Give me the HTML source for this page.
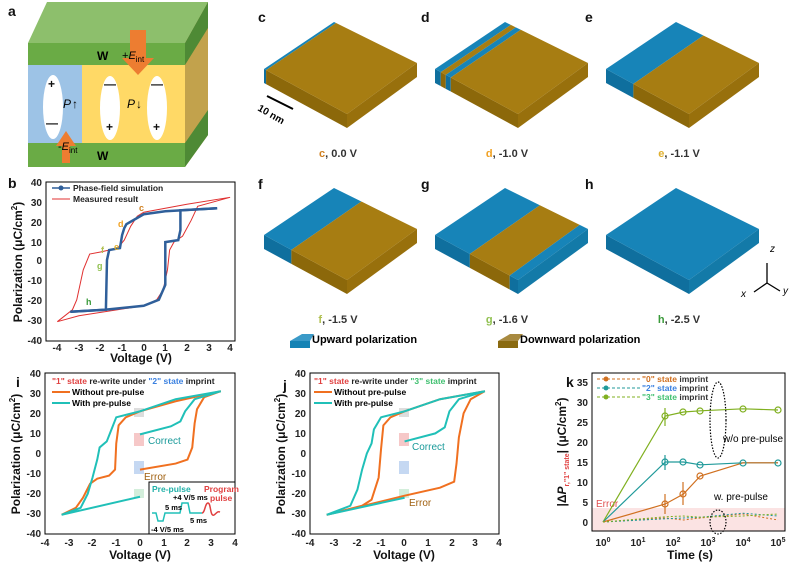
<!DOCTYPE html>
<html><head><meta charset="utf-8"><style>
body{margin:0;background:#fff}
svg{display:block;font-family:"Liberation Sans",Arial,sans-serif}
.t{font-size:10px;font-weight:bold;fill:#222}
.ax{font-size:12px;font-weight:bold;fill:#111}
.L{font-size:14px;font-weight:bold;fill:#111}
.ln{fill:none;vector-effect:non-scaling-stroke}
.s{font-size:8.5px;font-weight:bold}
</style></head><body>
<svg id="s" width="800" height="564" viewBox="0 0 800 564" xmlns="http://www.w3.org/2000/svg">
<!-- panel a -->
<polygon points="28,43 185,43 208,2 47,2" fill="#8dbf6c"/>
<polygon points="185,43 208,2 208,135 185,167" fill="#c2a24c"/>
<polygon points="185,43 208,2 208,28 185,65" fill="#4e8a35"/>
<polygon points="185,143 208,110 208,135 185,167" fill="#4e8a35"/>
<rect x="28" y="43" width="157" height="22" fill="#6aab45"/>
<rect x="28" y="65" width="54" height="78" fill="#9dc3e6"/>
<rect x="82" y="65" width="103" height="78" fill="#ffd966"/>
<rect x="28" y="143" width="157" height="24" fill="#6aab45"/>
<ellipse cx="53" cy="107" rx="10" ry="32" fill="#fff"/>
<ellipse cx="110" cy="108" rx="10" ry="32" fill="#fff"/>
<ellipse cx="157" cy="108" rx="10" ry="32" fill="#fff"/>
<text x="48" y="88" class="ax">+</text><text x="46" y="127" class="ax">—</text>
<text x="104" y="88" class="ax">—</text><text x="106" y="131" class="ax">+</text>
<text x="151" y="88" class="ax">—</text><text x="153" y="131" class="ax">+</text>
<text x="63" y="108" font-size="12" font-style="italic">P</text><text x="72" y="108" font-size="12">↑</text>
<text x="127" y="108" font-size="12" font-style="italic">P</text><text x="136" y="108" font-size="12">↓</text>
<polygon points="130,30 146,30 146,58 154,58 138,75 122,58 130,58" fill="#ed7d31"/>
<polygon points="62,163 70,163 70,146 76,146 66,131 56,146 62,146" fill="#ed7d31"/>
<text x="97" y="60" font-size="12" font-weight="bold">W</text>
<text x="97" y="160" font-size="12" font-weight="bold">W</text>
<text x="122" y="59" font-size="11">+<tspan font-style="italic">E</tspan><tspan font-size="8" dy="3">int</tspan></text>
<text x="58" y="150" font-size="11">-<tspan font-style="italic">E</tspan><tspan font-size="8" dy="3">int</tspan></text>
<text x="8" y="16" class="L">a</text>
<!-- panel b -->
<text x="8" y="188" class="L">b</text>
<rect x="46" y="182" width="189" height="159" fill="none" stroke="#000" stroke-width="1"/>
<g class="t" text-anchor="end">
<text x="42" y="186">40</text><text x="42" y="206">30</text><text x="42" y="226">20</text><text x="42" y="246">10</text><text x="42" y="264">0</text><text x="42" y="284">-10</text><text x="42" y="304">-20</text><text x="42" y="324">-30</text><text x="42" y="344">-40</text></g>
<g class="t" text-anchor="middle">
<text x="57" y="351">-4</text><text x="79" y="351">-3</text><text x="100" y="351">-2</text><text x="122" y="351">-1</text><text x="144" y="351">0</text><text x="165" y="351">1</text><text x="187" y="351">2</text><text x="209" y="351">3</text><text x="230" y="351">4</text></g>
<text x="141" y="362" class="ax" text-anchor="middle">Voltage (V)</text>
<text transform="translate(22,262) rotate(-90)" class="ax" text-anchor="middle">Polarization (μC/cm<tspan font-size="8" dy="-5">2</tspan><tspan dy="5">)</tspan></text>
<g transform="translate(143.7,260) scale(21.6,-1.99)">
<polyline class="ln" stroke="#e03030" stroke-width="1" points="-4,-31 -3,-28 0,-23 0.6,-20 0.9,-15 1.1,-5 1.2,5 1.4,9 1.8,12 2.2,20 2.5,27 4,31.5 2,28 0,24 -0.3,22 -0.6,17 -0.9,10 -1.2,6 -2,4 -2.5,3 -2.8,-5 -3.1,-20 -3.3,-25 -4,-31"/>
<polyline class="ln" stroke="#2f5f9a" stroke-width="2.5" points="-3.4,-26 -1.8,-25 0,-23 0.7,-20 0.9,-15 1,-12.5 1,9 1.6,10 1.7,15 1.7,25 3.4,26"/>
<polyline class="ln" stroke="#2f5f9a" stroke-width="2.5" points="3.4,26 1,24.5 0,23 -0.8,18 -0.9,16 -1,12.5 -1.1,6 -1.6,5 -1.7,0 -1.75,-25 -3.4,-26"/>
</g>
<line x1="52" y1="188" x2="70" y2="188" stroke="#2f5f9a" stroke-width="1.5"/><circle cx="61" cy="188" r="2.5" fill="#2f5f9a"/>
<text x="73" y="191" class="s" fill="#222">Phase-field simulation</text>
<line x1="52" y1="199" x2="70" y2="199" stroke="#e03030"/>
<text x="73" y="202" class="s" fill="#222">Measured result</text>
<g font-size="9" font-weight="bold"><text x="139" y="211" fill="#d08020">c</text><text x="118" y="227" fill="#f0a020">d</text><text x="114" y="250" fill="#e0b030">e</text><text x="101" y="253" fill="#b0c050">f</text><text x="97" y="269" fill="#90c050">g</text><text x="86" y="305" fill="#3a9a3a">h</text></g>
<!-- cubes -->
<g id="cubes"></g>
<g font-size="11" font-weight="bold" fill="#333" text-anchor="middle">
<text x="338" y="157"><tspan fill="#d08020">c</tspan>, 0.0 V</text>
<text x="507" y="157"><tspan fill="#f0a020">d</tspan>, -1.0 V</text>
<text x="679" y="157"><tspan fill="#e0b030">e</tspan>, -1.1 V</text>
<text x="338" y="323"><tspan fill="#b0c050">f</tspan>, -1.5 V</text>
<text x="507" y="323"><tspan fill="#90c050">g</tspan>, -1.6 V</text>
<text x="679" y="323"><tspan fill="#3a9a3a">h</tspan>, -2.5 V</text>
</g>
<g class="L" font-size="13"><text x="258" y="22">c</text><text x="421" y="22">d</text><text x="585" y="22">e</text><text x="258" y="189">f</text><text x="421" y="189">g</text><text x="585" y="189">h</text></g>
<line x1="267" y1="96" x2="293" y2="109" stroke="#000" stroke-width="2"/>
<text transform="translate(257,110) rotate(30)" font-size="10" font-weight="bold">10 nm</text>
<g stroke="#000" stroke-width="1.3" fill="none"><line x1="767" y1="283" x2="767" y2="263"/><line x1="767" y1="283" x2="754" y2="292"/><line x1="767" y1="283" x2="780" y2="291"/></g>
<text x="741" y="297" font-size="10" font-style="italic">x</text><text x="783" y="294" font-size="10" font-style="italic">y</text><text x="770" y="252" font-size="10" font-style="italic">z</text>
<polygon points="290,341 302,334 314,334 310,341" fill="#3a9ac8"/><rect x="290" y="341" width="20" height="7" fill="#1583b5"/>
<text x="312" y="343" font-size="11" font-weight="bold">Upward polarization</text>
<polygon points="498,341 510,334 523,334 518,341" fill="#a88a40"/><rect x="498" y="341" width="20" height="7" fill="#8a6a10"/>
<text x="520" y="343" font-size="11" font-weight="bold">Downward polarization</text>
<!-- panel i -->
<rect x="45" y="373" width="190" height="161" fill="none" stroke="#000"/>
<text x="16" y="387" class="L" fill="#111">i</text>
<g class="t" text-anchor="end">
<text x="41" y="377">40</text><text x="41" y="397">30</text><text x="41" y="417">20</text><text x="41" y="437">10</text><text x="41" y="457">0</text><text x="41" y="477">-10</text><text x="41" y="497">-20</text><text x="41" y="517">-30</text><text x="41" y="537">-40</text></g>
<g class="t" text-anchor="middle">
<text x="45" y="546">-4</text><text x="69" y="546">-3</text><text x="92" y="546">-2</text><text x="116" y="546">-1</text><text x="140" y="546">0</text><text x="164" y="546">1</text><text x="187" y="546">2</text><text x="211" y="546">3</text><text x="235" y="546">4</text></g>
<text x="140" y="559" class="ax" text-anchor="middle">Voltage (V)</text>
<text transform="translate(20,454) rotate(-90)" class="ax" text-anchor="middle">Polarization (μC/cm<tspan font-size="8" dy="-5">2</tspan><tspan dy="5">)</tspan></text>
<rect x="134" y="408" width="10" height="9" fill="#ddd"/><rect x="134" y="433" width="10" height="13" fill="#f6c8c8"/><rect x="134" y="461" width="10" height="13" fill="#c5d8f2"/><rect x="134" y="489" width="10" height="9" fill="#d3eedb"/>
<g transform="translate(140,453.5) scale(23.75,-2.01)">
<polyline class="ln" stroke="#f07020" stroke-width="2" points="3.4,31 1.5,26 0,21 -0.6,18 -0.9,14 -1,5 -1.05,-8 -1.3,-11 -1.8,-12.5 -2.1,-15 -2.4,-22 -2.7,-27 -3.3,-30.5"/>
<polyline class="ln" stroke="#f07020" stroke-width="2" points="0,-8 1.5,-5 2,-3 2.2,3 2.3,15 2.4,22 2.7,28 3.4,31"/>
<polyline class="ln" stroke="#20c0b8" stroke-width="2" points="3.4,31 1.5,27 0,21 -1,18 -1.2,12 -1.4,6 -1.7,3 -1.8,-3 -2,-12 -2.2,-20 -2.5,-27 -3.3,-30.5 0,-21.5"/>
<polyline class="ln" stroke="#20c0b8" stroke-width="2" points="0,9.5 1.3,13.5 1.7,16 1.9,21 2.3,27 3.4,31"/>
</g>
<text x="148" y="444" font-size="10" fill="#1a9a9a">Correct</text>
<text x="144" y="480" font-size="10" fill="#a06010">Error</text>
<text x="52" y="384" class="s" fill="#222"><tspan fill="#e04040">"1" state</tspan> re-write under <tspan fill="#3a80e0">"2" state</tspan> imprint</text>
<line x1="52" y1="392" x2="70" y2="392" stroke="#f07020" stroke-width="2"/><text x="72" y="395" class="s">Without pre-pulse</text>
<line x1="52" y1="403" x2="70" y2="403" stroke="#20c0b8" stroke-width="2"/><text x="72" y="406" class="s">With pre-pulse</text>
<rect x="149" y="482" width="86" height="52" fill="#fff" stroke="#000"/>
<text x="152" y="492" font-size="8.5" fill="#20b0a8" font-weight="bold">Pre-pulse</text>
<text x="204" y="492" font-size="8.5" fill="#e04040" font-weight="bold">Program</text><text x="210" y="501" font-size="8.5" fill="#e04040" font-weight="bold">pulse</text>
<polyline points="152,513 156,513 158,521 163,521 165,513 180,513 182,503 188,503 190,513 202,513" fill="none" stroke="#20c0b8" stroke-width="1.5"/>
<path d="M202,513 C205,513 205,503 208,503 C211,503 210,517 214,515 C217,513 217,511 220,512" fill="none" stroke="#e04040" stroke-width="1.5"/>
<g font-size="7.5" font-weight="bold"><text x="173" y="500">+4 V/5 ms</text><text x="165" y="510">5 ms</text><text x="190" y="523">5 ms</text><text x="151" y="532">-4 V/5 ms</text></g>
<!-- panel j -->
<rect x="310" y="373" width="189" height="161" fill="none" stroke="#000"/>
<text x="283" y="390" class="L">j</text>
<g class="t" text-anchor="end">
<text x="306" y="377">40</text><text x="306" y="397">30</text><text x="306" y="417">20</text><text x="306" y="437">10</text><text x="306" y="457">0</text><text x="306" y="477">-10</text><text x="306" y="497">-20</text><text x="306" y="517">-30</text><text x="306" y="537">-40</text></g>
<g class="t" text-anchor="middle">
<text x="310" y="546">-4</text><text x="334" y="546">-3</text><text x="357" y="546">-2</text><text x="381" y="546">-1</text><text x="404" y="546">0</text><text x="428" y="546">1</text><text x="452" y="546">2</text><text x="475" y="546">3</text><text x="499" y="546">4</text></g>
<text x="404" y="559" class="ax" text-anchor="middle">Voltage (V)</text>
<text transform="translate(285,454) rotate(-90)" class="ax" text-anchor="middle">Polarization (μC/cm<tspan font-size="8" dy="-5">2</tspan><tspan dy="5">)</tspan></text>
<rect x="399" y="408" width="10" height="9" fill="#ddd"/><rect x="399" y="433" width="10" height="13" fill="#f6c8c8"/><rect x="399" y="461" width="10" height="13" fill="#c5d8f2"/><rect x="399" y="489" width="10" height="9" fill="#d3eedb"/>
<g transform="translate(404.6,453.5) scale(23.6,-2.01)">
<polyline class="ln" stroke="#f07020" stroke-width="2" points="3.4,31 1.5,27 0,21 -0.6,18 -0.9,14 -1,2 -1.1,-12 -1.4,-23 -1.8,-26 -3.3,-30.5"/>
<polyline class="ln" stroke="#f07020" stroke-width="2" points="-3.3,-30.5 0,-21 1.5,-17 2.1,-14 2.2,-5 2.3,8 2.5,20 2.8,27 3.4,31"/>
<polyline class="ln" stroke="#20c0b8" stroke-width="2" points="3.4,31 1.5,27 0,21 -1,18 -1.3,12 -1.4,5 -1.6,0 -1.8,-8 -2,-18 -2.3,-26 -3.3,-30.5 0,-22"/>
<polyline class="ln" stroke="#20c0b8" stroke-width="2" points="0,6 1.3,10 1.7,13 1.9,21 2.3,27 3.4,31"/>
</g>
<text x="412" y="450" font-size="10" fill="#1a9a9a">Correct</text>
<text x="409" y="506" font-size="10" fill="#a06010">Error</text>
<text x="314" y="384" class="s" fill="#222"><tspan fill="#e04040">"1" state</tspan> re-write under <tspan fill="#40c070">"3" state</tspan> imprint</text>
<line x1="314" y1="392" x2="332" y2="392" stroke="#f07020" stroke-width="2"/><text x="334" y="395" class="s">Without pre-pulse</text>
<line x1="314" y1="403" x2="332" y2="403" stroke="#20c0b8" stroke-width="2"/><text x="334" y="406" class="s">With pre-pulse</text>
<!-- panel k -->
<rect x="592" y="508" width="193" height="23" fill="#fbe3e3"/>
<rect x="592" y="373" width="193" height="158" fill="none" stroke="#000"/>
<text x="566" y="387" class="L">k</text>
<g class="t" text-anchor="end">
<text x="588" y="386">35</text><text x="588" y="406">30</text><text x="588" y="426">25</text><text x="588" y="446">20</text><text x="588" y="466">15</text><text x="588" y="486">10</text><text x="588" y="506">5</text><text x="588" y="526">0</text></g>
<g class="t" text-anchor="middle">
<text x="603" y="546">10<tspan font-size="7" dy="-4">0</tspan></text><text x="638" y="546">10<tspan font-size="7" dy="-4">1</tspan></text><text x="673" y="546">10<tspan font-size="7" dy="-4">2</tspan></text><text x="708" y="546">10<tspan font-size="7" dy="-4">3</tspan></text><text x="743" y="546">10<tspan font-size="7" dy="-4">4</tspan></text><text x="778" y="546">10<tspan font-size="7" dy="-4">5</tspan></text></g>
<text x="690" y="559" class="ax" text-anchor="middle">Time (s)</text>
<text transform="translate(566,452) rotate(-90)" class="ax" text-anchor="middle">|Δ<tspan font-style="italic">P</tspan><tspan font-size="7" dy="3" fill="#e04040">r,"1" state</tspan><tspan dy="-3">| (μC/cm</tspan><tspan font-size="8" dy="-5">2</tspan><tspan dy="5">)</tspan></text>
<text x="596" y="507" font-size="10" fill="#e05050">Error</text>
<g transform="translate(603,522) scale(35,-4)">
<polyline class="ln" stroke="#80b020" stroke-width="1.2" points="0,0 1.78,26.5 2.3,27.5 2.78,27.8 4,28.3 5,28"/>
<polyline class="ln" stroke="#209a9a" stroke-width="1.2" points="0,0 1.78,15 2.3,15 2.78,14.3 4,14.8 5,14.8"/>
<polyline class="ln" stroke="#d07020" stroke-width="1.2" points="0,0 1.78,4.5 2.3,7 2.78,11.5 4,14.8 5,14.8"/>
<polyline class="ln" stroke="#d07020" stroke-width="1" stroke-dasharray="2,2" points="0,0 1.78,1 2.3,0.5 2.78,1 4,2 5,0.5"/>
<polyline class="ln" stroke="#209a9a" stroke-width="1" stroke-dasharray="2,2" points="0,0 1.78,0.8 2.3,1 2.78,1.2 4,2.2 5,1.5"/>
<polyline class="ln" stroke="#80b020" stroke-width="1" stroke-dasharray="2,2" points="0,0 1.78,1.3 2.3,1.5 2.78,1.2 4,1.5 5,2"/>
</g>
<g fill="none" stroke-width="1.2">
<circle cx="665" cy="416" r="3" stroke="#80b020"/><circle cx="683" cy="412" r="3" stroke="#80b020"/><circle cx="700" cy="411" r="3" stroke="#80b020"/><circle cx="743" cy="409" r="3" stroke="#80b020"/><circle cx="778" cy="410" r="3" stroke="#80b020"/>
<circle cx="665" cy="462" r="3" stroke="#209a9a"/><circle cx="683" cy="462" r="3" stroke="#209a9a"/><circle cx="700" cy="465" r="3" stroke="#209a9a"/><circle cx="743" cy="463" r="3" stroke="#209a9a"/><circle cx="778" cy="463" r="3" stroke="#209a9a"/>
<circle cx="665" cy="504" r="3" stroke="#d07020"/><circle cx="683" cy="494" r="3" stroke="#d07020"/><circle cx="700" cy="476" r="3" stroke="#d07020"/>
<ellipse cx="718" cy="420" rx="8" ry="38" stroke="#000" stroke-dasharray="1.5,1.5"/>
<ellipse cx="718" cy="522" rx="8" ry="12" stroke="#000" stroke-dasharray="1.5,1.5"/>
<line x1="665" y1="408" x2="665" y2="426" stroke="#80b020"/><line x1="665" y1="455" x2="665" y2="470" stroke="#209a9a"/><line x1="665" y1="494" x2="665" y2="514" stroke="#d07020"/><line x1="683" y1="482" x2="683" y2="505" stroke="#d07020"/>
</g>
<text x="723" y="442" font-size="10">w/o pre-pulse</text>
<text x="714" y="500" font-size="10">w. pre-pulse</text>
<g class="s" fill="#333">
<line x1="597" y1="379" x2="640" y2="379" stroke="#d07020" stroke-dasharray="3,2"/><circle cx="606" cy="379" r="2.5" fill="#d07020"/><text x="642" y="382"><tspan fill="#d07020">"0" state</tspan> imprint</text>
<line x1="597" y1="388" x2="640" y2="388" stroke="#209a9a" stroke-dasharray="3,2"/><circle cx="606" cy="388" r="2.5" fill="#209a9a"/><text x="642" y="391"><tspan fill="#3a80e0">"2" state</tspan> imprint</text>
<line x1="597" y1="397" x2="640" y2="397" stroke="#80b020" stroke-dasharray="3,2"/><circle cx="606" cy="397" r="2.5" fill="#80b020"/><text x="642" y="400"><tspan fill="#40c070">"3" state</tspan> imprint</text>
</g>
</svg>
<script>
(function(){
var g=document.getElementById('cubes'),NS='http://www.w3.org/2000/svg';
var T=[334,22],R=[417,63],B=[347,114],L=[264,69],H=14;
var BL={top:'#1784b8',side:'#0f6f9e',side2:'#137aa8'},BR={top:'#a77d12',side:'#8c680a',side2:'#98700c'};
function P(p,c,o){var e=document.createElementNS(NS,'polygon');e.setAttribute('points',p.map(function(q){return (q[0]+o[0])+','+(q[1]+o[1])}).join(' '));e.setAttribute('fill',c);g.appendChild(e);}
function lerp(a,b,t){return [a[0]+(b[0]-a[0])*t,a[1]+(b[1]-a[1])*t];}
function dn(p){return [p[0],p[1]+H];}
function cube(o,segs){
 segs.forEach(function(s){var a=s[0],b=s[1],c=s[2]?BL:BR;
  var p1=lerp(L,B,a),p2=lerp(L,B,b),q1=lerp(T,R,a),q2=lerp(T,R,b);
  P([p1,p2,dn(p2),dn(p1)],c.side,o);
  P([p1,p2,q2,q1],c.top,o);});
 var last=segs[segs.length-1][2]?BL:BR;
 P([B,R,dn(R),dn(B)],last.side2,o);
}
cube([0,0],[[0,0.025,1],[0.025,1,0]]);
cube([171,0],[[0,0.07,1],[0.07,0.13,0],[0.13,0.19,1],[0.19,1,0]]);
cube([342,0],[[0,0.33,1],[0.33,1,0]]);
cube([0,166],[[0,0.33,1],[0.33,1,0]]);
cube([171,166],[[0,0.42,1],[0.42,0.9,0],[0.9,1,1]]);
cube([342,166],[[0,1,1]]);
})();
</script>
</body></html>
